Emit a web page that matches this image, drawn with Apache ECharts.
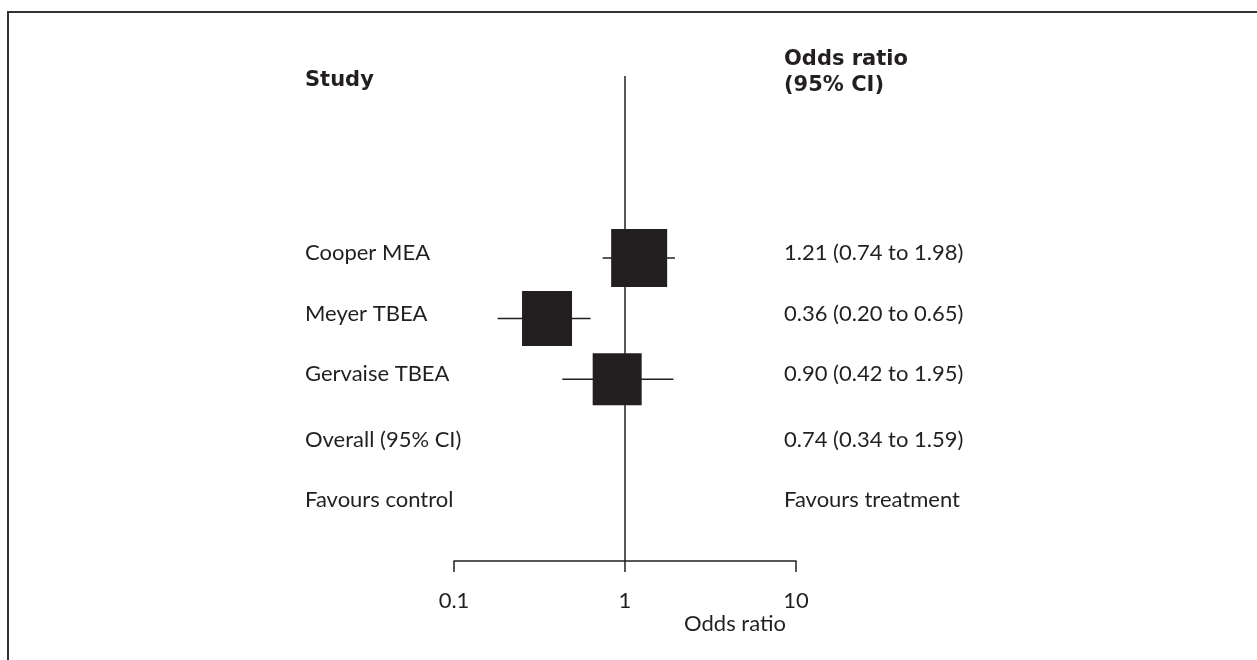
<!DOCTYPE html>
<html>
<head>
<meta charset="utf-8">
<script src="https://cdn.jsdelivr.net/npm/echarts@6/dist/echarts.min.js"></script>
<style>
html,body{margin:0;padding:0;background:#fff;}
#chart{width:1257px;height:660px;}
</style>
</head>
<body>
<div id="chart"></div>
<script>
// ---- data ----
const studies = ['Cooper MEA', 'Meyer TBEA', 'Gervaise TBEA'];
const oddsRatio = [1.21, 0.35, 0.90];
const ciLow = [0.74, 0.18, 0.43];
const ciHigh = [1.96, 0.63, 1.92];
const ciText = ['1.21 (0.74 to 1.98)', '0.36 (0.20 to 0.65)', '0.90 (0.42 to 1.95)'];
const overallLabel = 'Overall (95% CI)';
const overallText = '0.74 (0.34 to 1.59)';
const favoursLeft = 'Favours control';
const favoursRight = 'Favours treatment';
const headerLeft = 'Study';
const headerRight = 'Odds ratio\n(95% CI)';
const xTicks = [0.1, 1, 10];
const xName = 'Odds ratio';

// ---- style / layout ----
const INK = '#231f20';
const FONT = 'Lato, "DejaVu Sans", sans-serif';
const BFONT = '"DejaVu Sans", Lato, sans-serif';
const FS = 22;
const BFS = 21;
const squareSizes = [[56, 58], [50, 55], [49, 52]];
const LEFT_X = 305, RIGHT_X = 784;
const textRowPos = [0, 1, 2, 3.08, 4.07];

const leftTexts = studies.concat([overallLabel, favoursLeft]);
const rightTexts = ciText.concat([overallText, favoursRight]);

const chart = echarts.init(document.getElementById('chart'), null, {renderer: 'canvas'});

function textSeries(texts, xPix) {
  return {
    type: 'custom',
    clip: false,
    silent: true,
    encode: {x: 0, y: 1},
    data: texts.map((t, i) => [1, textRowPos[i]]),
    renderItem: function (params, api) {
      const y = api.coord([1, api.value(1)])[1];
      return {
        type: 'text',
        x: xPix,
        y: y - 5,
        style: {
          text: texts[params.dataIndex],
          fill: INK,
          font: FS + 'px ' + FONT,
          align: 'left',
          verticalAlign: 'middle'
        }
      };
    }
  };
}

const option = {
  backgroundColor: '#fff',
  animation: false,
  grid: {left: 454, right: 1257 - 796, top: 76, bottom: 660 - 561, containLabel: false},
  xAxis: {
    type: 'log',
    logBase: 10,
    min: 0.1,
    max: 10,
    splitLine: {show: false},
    axisLine: {show: true, onZero: false, lineStyle: {color: INK, width: 1.5}},
    axisTick: {show: true, length: 11, inside: false, lineStyle: {color: INK, width: 1.5}},
    minorTick: {show: false},
    axisLabel: {
      color: INK, fontSize: FS, fontFamily: FONT, margin: 29,
      formatter: function (v) {
        for (const t of xTicks) { if (Math.abs(Math.log10(v) - Math.log10(t)) < 1e-6) return String(t); }
        return '';
      }
    }
  },
  yAxis: {
    type: 'value',
    inverse: true,
    min: -3,
    max: 5,
    show: false
  },
  graphic: [
    {type: 'rect', shape: {x: 8, y: 12, width: 1400, height: 800},
     style: {fill: null, stroke: '#333', lineWidth: 2}, silent: true},
    {type: 'text', x: 735, y: 624, style: {text: xName, fill: INK, font: FS + 'px ' + FONT, align: 'center', verticalAlign: 'middle'}},
    {type: 'text', x: LEFT_X, y: 81, style: {text: headerLeft, fill: INK, font: 'bold ' + BFS + 'px ' + BFONT, align: 'left', verticalAlign: 'middle'}},
    {type: 'text', x: RIGHT_X, y: 73, style: {text: headerRight, fill: INK, font: 'bold ' + BFS + 'px ' + BFONT, align: 'left', verticalAlign: 'middle', lineHeight: 26}}
  ],
  series: [
    {
      // reference line at OR = 1
      type: 'line',
      data: [],
      markLine: {
        silent: true,
        symbol: ['none', 'none'],
        label: {show: false},
        lineStyle: {color: INK, width: 1.5, type: 'solid'},
        data: [{xAxis: 1}]
      }
    },
    {
      // confidence interval lines
      type: 'custom',
      silent: true,
      clip: false,
      encode: {x: [0, 1], y: 2},
      data: studies.map((s, i) => [ciLow[i], ciHigh[i], i]),
      renderItem: function (params, api) {
        const p1 = api.coord([api.value(0), api.value(2)]);
        const p2 = api.coord([api.value(1), api.value(2)]);
        return {type: 'line', shape: {x1: p1[0], y1: p1[1], x2: p2[0], y2: p2[1]},
                style: {stroke: INK, lineWidth: 1.5}};
      }
    },
    {
      // study point estimates
      type: 'scatter',
      silent: true,
      symbol: 'rect',
      symbolSize: function (v, p) { return squareSizes[p.dataIndex]; },
      itemStyle: {color: INK, opacity: 1},
      data: studies.map((s, i) => [oddsRatio[i], i]),
      z: 5
    },
    textSeries(leftTexts, LEFT_X),
    textSeries(rightTexts, RIGHT_X)
  ]
};
chart.setOption(option);
</script>
</body>
</html>
